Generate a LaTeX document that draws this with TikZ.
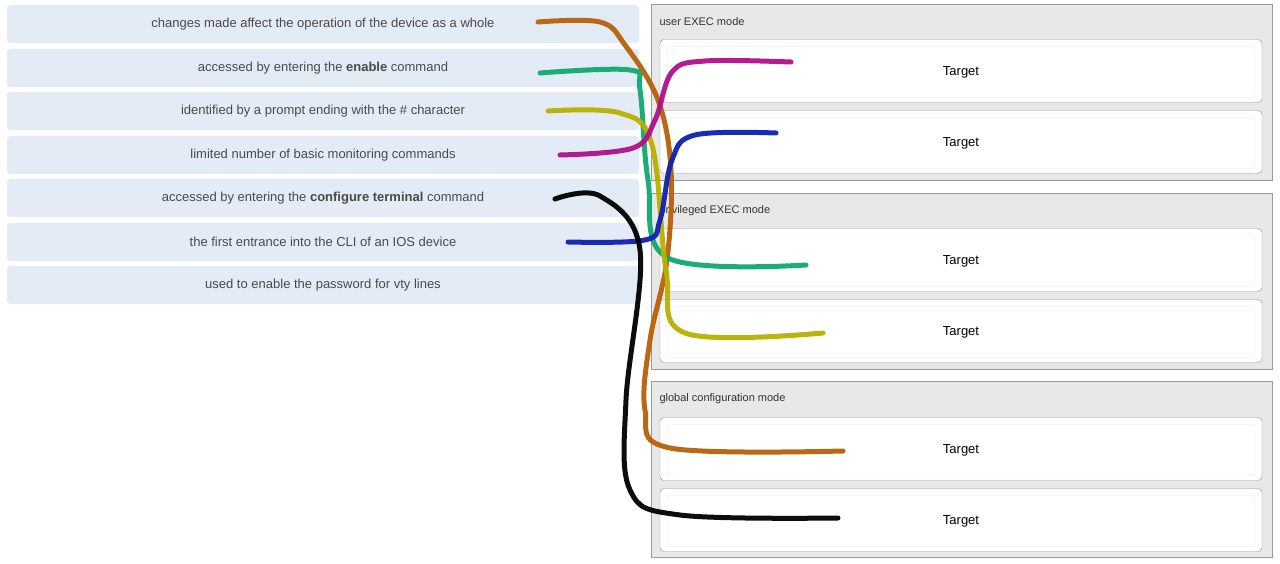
\documentclass[tikz,border=0pt]{standalone}
\usepackage{fontspec}
\setmainfont{Liberation Sans}
\usetikzlibrary{positioning}
\definecolor{itemblue}{HTML}{E3EBF6}
\definecolor{itemtext}{HTML}{4A4A4A}
\definecolor{panelgray}{HTML}{E8E8E8}
\definecolor{inkbrown}{HTML}{B8600A}
\definecolor{inkgreen}{HTML}{10A870}
\definecolor{inkyellow}{HTML}{B8B000}
\definecolor{inkmagenta}{HTML}{B0108A}
\definecolor{inkblue}{HTML}{1020B0}
\tikzset{
  item/.style={fill=itemblue, rounded corners=3pt, minimum width=632pt, minimum height=38pt,
    text=itemtext, font=\fontsize{13}{15}\selectfont, anchor=center},
  panel/.style={draw=gray!80, fill=panelgray, minimum width=621pt, minimum height=176pt, anchor=north west},
  slot/.style={draw=gray!85, fill=white, rounded corners=4pt, minimum width=602pt, minimum height=63pt},
  slotin/.style={draw=blue!10, fill=white, rounded corners=3pt, minimum width=588pt, minimum height=51pt,
    font=\fontsize{13}{15}\selectfont},
  paneltitle/.style={font=\fontsize{11}{13}\selectfont, text=black!80, anchor=west},
  ink/.style={line width=5pt, line cap=round, line join=round, opacity=0.95}
}
\begin{document}
\begin{tikzpicture}[x=1pt, y=-1pt]
  \useasboundingbox[fill=white] (0,0) rectangle (1280,564);
  % draggable items
  \node[item] (i1) at (323,24) {changes made affect the operation of the device as a whole};
  \node[item] (i2) at (323,68) {accessed by entering the \textbf{enable} command};
  \node[item] (i3) at (323,111) {identified by a prompt ending with the \# character};
  \node[item] (i4) at (323,155) {limited number of basic monitoring commands};
  \node[item] (i5) at (323,198) {accessed by entering the \textbf{configure terminal} command};
  \node[item] (i6) at (323,242) {the first entrance into the CLI of an IOS device};
  \node[item] (i7) at (323,285) {used to enable the password for vty lines};
  % mode panels
  \foreach \n/\y/\t in {p1/4/user EXEC mode, p2/193/privileged EXEC mode, p3/381/global configuration mode}{
    \node[panel] (\n) at (651,\y) {};
    \node[paneltitle] (\n t) at (656,\y+18) {\t};
  }
  % targets
  \foreach \n/\y in {t1/71, t2/142, t3/260, t4/331, t5/449, t6/520}{
    \node[slot] (\n o) at (961,\y) {};
    \node[slotin] (\n) at (961,\y+1) {Target};
  }
  % hand drawn links
  \draw[ink, inkbrown] plot[smooth, tension=0.6] coordinates {(538,22) (600,22) (625,45) (658,100) (671,170) (667,260) (650,340) (645,410) (670,448) (843,451)};
  \draw[ink, inkgreen] plot[smooth, tension=0.6] coordinates {(540,73) (630,70) (640,90) (648,180) (668,258) (806,265)};
  \draw[ink, inkyellow] plot[smooth, tension=0.6] coordinates {(548,111) (620,113) (652,145) (666,270) (685,333) (823,333)};
  \draw[ink, inkmagenta] plot[smooth, tension=0.6] coordinates {(560,155) (633,148) (655,120) (672,72) (705,61) (791,62)};
  \draw[ink, inkblue] plot[smooth, tension=0.6] coordinates {(568,242) (645,240) (660,220) (672,160) (695,135) (776,133)};
  \draw[ink, black] plot[smooth, tension=0.6] coordinates {(555,199) (600,196) (640,250) (626,400) (630,490) (680,515) (838,518)};
\end{tikzpicture}
\end{document}
